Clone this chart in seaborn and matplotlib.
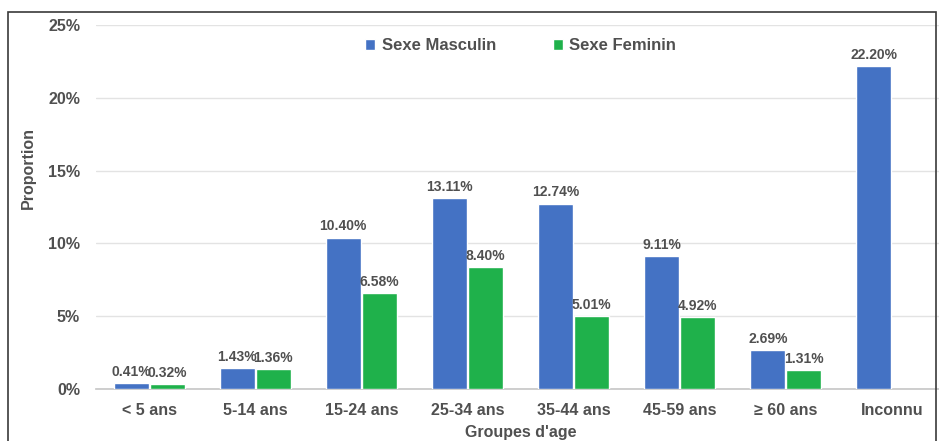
import numpy as np
import pandas as pd
import matplotlib
matplotlib.use("Agg")
import matplotlib.pyplot as plt
from matplotlib.patches import Rectangle
from matplotlib.ticker import FuncFormatter, MultipleLocator
import seaborn as sns

# ----------------------------------------------------------
# Data
# ----------------------------------------------------------
groupes = ["< 5 ans", "5-14 ans", "15-24 ans", "25-34 ans",
           "35-44 ans", "45-59 ans", "≥ 60 ans", "Inconnu"]
masculin = [0.41, 1.43, 10.40, 13.11, 12.74, 9.11, 2.69, 22.20]
feminin = [0.32, 1.36, 6.58, 8.40, 5.01, 4.92, 1.31, np.nan]
series = ["Sexe Masculin", "Sexe Feminin"]

df = pd.DataFrame({
    "Groupe": groupes * 2,
    "Sexe": [series[0]] * len(groupes) + [series[1]] * len(groupes),
    "Proportion": masculin + feminin,
})

sns.set_theme(style="white")
plt.rcParams["font.family"] = ["Liberation Sans", "DejaVu Sans"]
plt.rcParams["font.weight"] = "bold"

txt = "#505050"

fig = plt.figure(figsize=(9.39, 4.41), dpi=100)
ax = fig.add_axes([96 / 939, 0.118, 849 / 939, 0.825])

sns.barplot(
    data=df, x="Groupe", y="Proportion", hue="Sexe",
    order=groupes, hue_order=series,
    palette=["#4472C4", "#1FB14B"],
    width=0.68, gap=0.03, saturation=1,
    ax=ax, zorder=3,
)

for cont in ax.containers:
    labels = ["" if np.isnan(v) else f"{v:.2f}%" for v in cont.datavalues]
    ax.bar_label(cont, labels=labels, padding=3, fontsize=10,
                 fontweight="bold", color=txt)

ax.set_ylim(0, 25)
ax.set_xlim(-0.5, len(groupes) - 0.5)
ax.yaxis.set_major_locator(MultipleLocator(5))
ax.yaxis.set_major_formatter(FuncFormatter(lambda v, p: f"{v:.0f}%"))
ax.grid(axis="y", color="#E3E3E3", linewidth=1, zorder=0)
for s in ["top", "right", "left"]:
    ax.spines[s].set_visible(False)
ax.spines["bottom"].set_color("#C8C8C8")
ax.tick_params(axis="both", length=0, labelsize=11.5, labelcolor=txt)
ax.tick_params(axis="x", pad=10)
ax.tick_params(axis="y", pad=11.5)
for lab in ax.get_xticklabels() + ax.get_yticklabels():
    lab.set_fontweight("bold")

ax.set_xlabel("Groupes d'age", fontsize=11.5, fontweight="bold",
              color=txt, labelpad=5)
ax.set_ylabel("Proportion", fontsize=11.5, fontweight="bold", color=txt)
ax.yaxis.set_label_coords(-0.071, 0.607)

ax.legend(loc="upper center", bbox_to_anchor=(0.5, 1.005), ncol=2,
          frameon=False, handlelength=0.6, handleheight=0.6,
          handletextpad=0.4, columnspacing=3.4,
          prop={"size": 12, "weight": "bold"}, labelcolor=txt)

# outer frame
fig.patches.append(Rectangle((8 / 939, -0.01), 928 / 939, 1 - 12 / 441 + 0.01,
                             transform=fig.transFigure, fill=False,
                             edgecolor="#3A3A3A", linewidth=1.2))

fig.savefig("out.png", dpi=100)
plt.close(fig)
